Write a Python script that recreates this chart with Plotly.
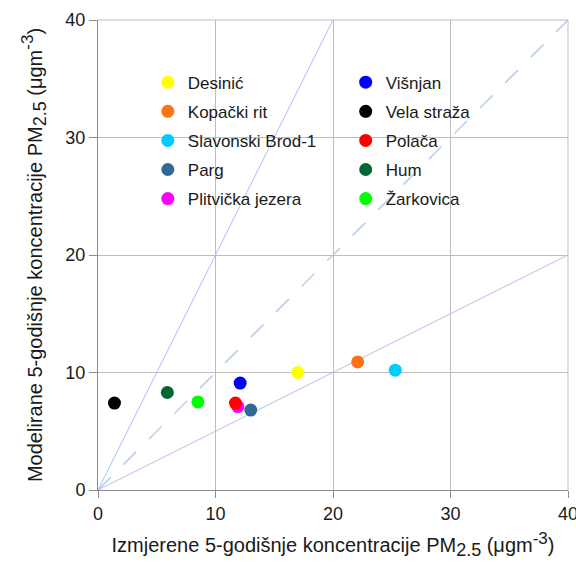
import plotly.graph_objects as go

stations = ["Desinić", "Kopački rit", "Slavonski Brod-1", "Parg", "Plitvička jezera",
            "Višnjan", "Vela straža", "Polača", "Hum", "Žarkovica"]
measured = [17.0, 22.1, 25.3, 13.0, 11.9, 12.1, 1.4, 11.7, 5.9, 8.5]
modelled = [10.0, 10.9, 10.2, 6.8, 7.1, 9.1, 7.4, 7.4, 8.3, 7.5]
colors = ["#ffff00", "#ff7214", "#00ccff", "#336699", "#ff00ff",
          "#0000ff", "#000000", "#ff0000", "#006633", "#00ff00"]

# reference lines: 1:1 (dashed), 1:2 and 2:1
line_11_x = [0, 40]
line_11_y = [0, 40]
line_12_x = [0, 40]
line_12_y = [0, 20]
line_21_x = [0, 20]
line_21_y = [0, 40]

xticks = [0, 10, 20, 30, 40]
yticks = [0, 10, 20, 30, 40]

fig = go.Figure()
lc = "#a9c4f2"
gc = "#bdbdbd"
fig.add_trace(go.Scatter(x=line_11_x, y=line_11_y, mode="lines", showlegend=False,
                         line=dict(color=lc, width=1.3, dash="18px,18px"), hoverinfo="skip"))
fig.add_trace(go.Scatter(x=line_12_x, y=line_12_y, mode="lines", showlegend=False,
                         line=dict(color=lc, width=1), hoverinfo="skip"))
fig.add_trace(go.Scatter(x=line_21_x, y=line_21_y, mode="lines", showlegend=False,
                         line=dict(color=lc, width=1), hoverinfo="skip"))

for i, (name, xv, yv, c) in enumerate(zip(stations, measured, modelled, colors)):
    fig.add_trace(go.Scatter(
        x=[xv], y=[yv], mode="markers", name=name,
        marker=dict(color=c, size=13, line=dict(width=0)),
        legend="legend" if i < 5 else "legend2",
        legendgroup=name,
    ))

# light frame on the top and right edges of the plot area (grid lines at 40)
fig.add_shape(type="line", xref="paper", yref="paper", x0=0, x1=1, y0=1, y1=1,
              line=dict(color=gc, width=1), layer="below")
fig.add_shape(type="line", xref="paper", yref="paper", x0=1, x1=1, y0=0, y1=1,
              line=dict(color=gc, width=1), layer="below")

font_fam = "Liberation Sans, Arial, sans-serif"
tc = "#1a1a1a"
legend_common = dict(
    bgcolor="rgba(0,0,0,0)", borderwidth=0,
    font=dict(family=font_fam, size=17, color=tc),
    tracegroupgap=4, itemwidth=30,
    xanchor="left", yanchor="top",
)

sub = '<sub><span style="font-size:18px">2.5</span></sub>'
sup = '<sup><span style="font-size:17px">-3</span></sup>'

fig.update_layout(
    width=576, height=565,
    margin=dict(l=98, r=8, t=20, b=75, autoexpand=False),
    plot_bgcolor="white", paper_bgcolor="white",
    font=dict(family=font_fam, size=18, color=tc),
    legend=dict(x=0.106, y=0.905, **legend_common),
    legend2=dict(x=0.527, y=0.905, **legend_common),
    xaxis=dict(
        range=[0, 40], tickvals=xticks, showgrid=True, gridcolor=gc, gridwidth=1,
        showline=True, linecolor="#8c8c8c", linewidth=1, zeroline=False,
        ticks="outside", ticklen=7, tickcolor="#8c8c8c",
        tickfont=dict(size=18, color=tc), automargin=False, ticklabeloverflow="allow",
        title=dict(text="Izmjerene 5-godišnje koncentracije PM" + sub + " (μgm" + sup + ")",
                   font=dict(size=20, color=tc), standoff=15),
    ),
    yaxis=dict(
        range=[0, 40], tickvals=yticks, showgrid=True, gridcolor=gc, gridwidth=1,
        showline=True, linecolor="#8c8c8c", linewidth=1, zeroline=False,
        ticks="outside", ticklen=8, tickcolor="#8c8c8c",
        tickfont=dict(size=18, color=tc), automargin=False, ticklabeloverflow="allow",
        title=dict(text="Modelirane 5-godišnje koncentracije PM" + sub + " (μgm" + sup + ")",
                   font=dict(size=20, color=tc), standoff=17),
    ),
)

fig.write_html("out.html", config={"displayModeBar": False},
               post_script="document.body.style.margin='0';")
